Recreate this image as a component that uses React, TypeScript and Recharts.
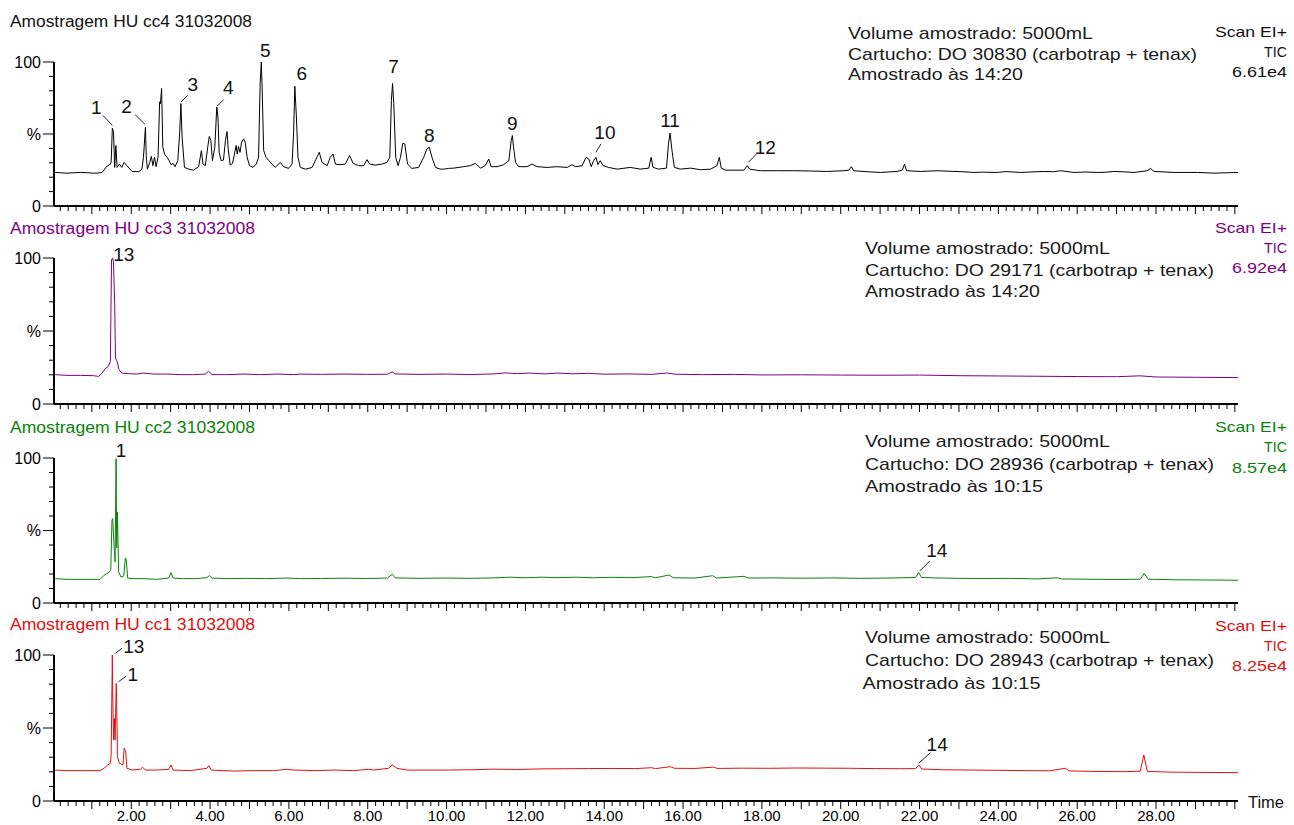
import { LineChart, Line, XAxis, YAxis, ReferenceDot } from "recharts";

// retention time (min) vs relative abundance (%)
const CC4: [number, number][] = [
  [0.07, 23.3], [0.2, 23.1], [0.37, 22.8], [0.5, 23.0], [0.71, 23.3], [0.9, 23.1], [1.04, 22.8], [1.15, 22.9],
  [1.26, 23.3], [1.37, 27.3], [1.47, 29.1], [1.49, 30.3], [1.52, 54.1], [1.55, 51.3], [1.58, 26.8], [1.61, 42],
  [1.64, 26.8], [1.7, 29.1], [1.76, 26.8], [1.82, 30.3], [1.89, 28], [2.02, 24], [2.19, 23.8], [2.27, 25.6],
  [2.31, 33.8], [2.36, 54.8], [2.38, 35], [2.41, 25.6], [2.47, 30.3], [2.51, 34.5], [2.55, 28], [2.59, 33.8],
  [2.63, 27.3], [2.68, 33.8], [2.72, 72.3], [2.74, 71], [2.77, 81.6], [2.8, 40.8], [2.85, 35.7], [2.91, 33.8],
  [2.96, 31.5], [3.01, 28.7], [3.06, 29.6], [3.11, 27.3], [3.18, 31.5], [3.23, 51.3], [3.26, 71.1], [3.29, 47.8],
  [3.35, 26.8], [3.46, 25.6], [3.58, 24.9], [3.71, 27.3], [3.78, 38.5], [3.82, 29.1], [3.88, 28], [3.94, 40.8],
  [3.98, 48.3], [4.02, 45.5], [4.06, 31.5], [4.12, 40.8], [4.17, 68.8], [4.2, 61.8], [4.23, 37.3], [4.28, 31.5],
  [4.34, 31.9], [4.39, 45.5], [4.43, 51.7], [4.46, 39.6], [4.51, 28.4], [4.57, 29.6], [4.62, 36.1], [4.66, 42],
  [4.69, 36.1], [4.72, 41.3], [4.76, 37.3], [4.8, 44.3], [4.85, 46.6], [4.89, 44.3], [4.94, 33.8], [5.0, 28],
  [5.09, 26.8], [5.17, 29.1], [5.23, 33.8], [5.27, 85], [5.3, 100], [5.32, 82.8], [5.36, 38.5], [5.42, 33.8],
  [5.49, 31.5], [5.57, 29.1], [5.65, 26.8], [5.78, 30.3], [5.87, 27.3], [5.99, 26.1], [6.08, 29.1], [6.12, 51.3],
  [6.15, 83.2], [6.19, 61.8], [6.23, 33.8], [6.29, 26.8], [6.42, 25.6], [6.59, 26.8], [6.71, 33.8], [6.77, 37.3],
  [6.84, 30.3], [6.97, 28], [7.05, 33.8], [7.12, 36.1], [7.18, 29.1], [7.3, 28.7], [7.43, 29.1], [7.54, 35],
  [7.63, 29.6], [7.77, 28], [7.9, 28], [7.98, 32.2], [8.05, 29.1], [8.19, 28.4], [8.36, 29.1], [8.49, 30.3],
  [8.56, 33.8], [8.6, 73.4], [8.63, 85.1], [8.66, 71.1], [8.71, 33.8], [8.77, 28], [8.83, 33.8], [8.89, 43.6],
  [8.94, 43.1], [9.01, 29.1], [9.12, 26.1], [9.29, 26.8], [9.42, 33.8], [9.5, 39.6], [9.56, 40.8], [9.63, 33.8],
  [9.72, 26.8], [9.84, 25.6], [9.93, 25.6], [10.05, 26.1], [10.18, 26.3], [10.43, 27.3], [10.6, 28], [10.73, 29.6],
  [10.86, 26.3], [10.98, 28], [11.07, 32.6], [11.13, 27.3], [11.28, 27.3], [11.45, 28.7], [11.58, 31.5], [11.64, 45.5],
  [11.67, 49], [11.7, 40.8], [11.75, 30.3], [11.83, 27.3], [12.04, 27.3], [12.17, 29.1], [12.3, 27.3], [12.55, 26.8],
  [12.8, 27.3], [13.06, 26.8], [13.18, 28.7], [13.27, 27.3], [13.44, 28], [13.54, 33.8], [13.61, 32.6], [13.67, 27.3],
  [13.73, 31.5], [13.79, 33.8], [13.84, 28.7], [13.9, 31.5], [13.97, 28], [14.11, 26.8], [14.33, 25.6], [14.66, 26.8],
  [14.92, 25.6], [15.13, 26.3], [15.19, 33.8], [15.24, 26.8], [15.38, 25.6], [15.58, 26.3], [15.63, 43.1], [15.67, 50.6],
  [15.72, 38.5], [15.78, 26.8], [15.93, 25.6], [16.19, 26.3], [16.44, 25.2], [16.7, 25.6], [16.86, 28], [16.92, 33.8],
  [16.97, 26.3], [17.08, 24.9], [17.29, 24.9], [17.54, 24.9], [17.63, 28], [17.69, 25.6], [17.96, 24.5], [18.39, 24.5],
  [18.81, 24.5], [19.23, 24.3], [19.66, 24], [20.08, 24.5], [20.21, 24.9], [20.27, 27.3], [20.33, 24.5], [20.67, 23.8],
  [21.01, 23.3], [21.43, 24], [21.56, 24.9], [21.62, 29.1], [21.67, 24.5], [22.03, 24], [22.45, 24.5], [22.87, 24],
  [23.1, 23.8], [23.38, 23.3], [23.6, 23.5], [23.97, 23.3], [24.2, 23.9], [24.56, 23.3], [24.8, 23.6], [25.16, 24],
  [25.4, 23.8], [25.58, 24.5], [25.92, 23.3], [26.2, 23.6], [26.51, 23.3], [26.7, 23.4], [26.93, 24], [27.2, 23.7],
  [27.44, 23.3], [27.78, 24.5], [27.86, 26.1], [27.95, 24], [28.46, 23.3], [29.05, 23.3], [29.47, 22.8], [30.08, 23.3]
];

const CC3: [number, number][] = [
  [0.07, 20.1], [0.37, 19.6], [0.71, 19.6], [1.04, 19.4], [1.17, 18.9], [1.26, 21.2], [1.34, 24.2], [1.42, 25.8],
  [1.47, 29.2], [1.5, 98.9], [1.53, 100], [1.55, 96.6], [1.58, 68], [1.6, 31.5], [1.64, 29.2], [1.69, 23.5],
  [1.76, 21.2], [1.93, 20.8], [2.14, 20.5], [2.31, 21.2], [2.57, 20.5], [2.91, 20.5], [3.24, 20.1], [3.58, 20.1],
  [3.88, 20.5], [3.96, 22.4], [4.05, 20.1], [4.43, 20.1], [4.85, 20.5], [5.27, 20.1], [5.7, 20.5], [6.12, 20.1],
  [6.29, 20.5], [6.8, 20.3], [7.4, 20.5], [8.0, 20.3], [8.5, 20.4], [8.62, 22], [8.7, 20.6], [9.3, 20.3],
  [10.0, 20.5], [10.6, 20.2], [11.2, 20.6], [11.5, 21.3], [11.8, 20.8], [12.1, 21.2], [12.5, 20.6], [12.8, 21.2],
  [13.2, 20.7], [13.6, 21], [14.0, 20.4], [14.6, 20.6], [15.2, 20.3], [15.6, 21.2], [15.8, 20.4], [16.5, 20.1],
  [17.3, 20.3], [18.0, 19.9], [19.0, 20], [20.0, 19.8], [21.0, 19.7], [22.0, 19.8], [23.0, 19.4], [24.0, 19.2],
  [25.0, 19], [26.0, 18.8], [27.0, 18.7], [27.6, 19.3], [28.0, 18.5], [29.0, 18.3], [30.08, 18.1]
];

const CC2: [number, number][] = [
  [0.07, 16.8], [0.37, 16.3], [0.79, 16.3], [1.21, 16.3], [1.31, 19.1], [1.42, 20.9], [1.48, 22.5], [1.51, 57],
  [1.53, 58.2], [1.56, 40.9], [1.59, 28.3], [1.615, 99.5], [1.63, 38], [1.65, 62.8], [1.68, 21.4], [1.74, 17.9],
  [1.81, 18.6], [1.85, 31], [1.87, 30.6], [1.91, 17.2], [2.02, 16.8], [2.31, 16.8], [2.65, 16.3], [2.95, 17.2],
  [3.01, 20.9], [3.06, 17.2], [3.33, 16.8], [3.67, 16.8], [3.92, 17.5], [3.98, 18.9], [4.05, 17.2], [4.43, 16.8],
  [4.94, 17], [5.44, 16.8], [5.95, 17.2], [6.29, 16.8], [6.8, 16.9], [7.4, 17.1], [8.0, 16.9], [8.5, 17.2],
  [8.62, 19.8], [8.7, 17.3], [9.3, 17], [10.0, 17.2], [10.6, 17.0], [11.2, 17.3], [11.6, 17.8], [12.0, 17.4],
  [12.4, 17.8], [12.8, 17.5], [13.3, 17.8], [13.7, 17.4], [14.2, 17.7], [14.7, 17.5], [15.2, 18.2], [15.3, 17.4],
  [15.65, 19.3], [15.75, 17.4], [16.3, 17.2], [16.75, 18.8], [16.85, 17.2], [17.55, 18.4], [17.65, 17.2], [18.3, 17.3],
  [19.0, 17.1], [19.8, 17.3], [20.5, 17.0], [21.2, 17.2], [21.9, 17.6], [21.98, 21], [22.05, 17.6], [22.4, 17.3],
  [23.0, 17], [23.6, 16.9], [24.3, 17], [25.0, 16.6], [25.5, 17.4], [25.6, 16.6], [26.3, 16.4], [27.0, 16.2],
  [27.6, 16.4], [27.7, 20.4], [27.8, 16.4], [28.5, 16.0], [29.2, 15.9], [30.08, 15.7]
];

const CC1: [number, number][] = [
  [0.07, 21.2], [0.37, 20.8], [0.79, 20.8], [1.21, 20.8], [1.31, 22.4], [1.4, 24.7], [1.47, 25.8], [1.49, 31.5],
  [1.52, 100], [1.53, 74.9], [1.55, 41.8], [1.57, 56.6], [1.59, 41.8], [1.62, 80.6], [1.64, 50.9], [1.65, 30.4],
  [1.7, 25.8], [1.79, 24.7], [1.82, 36.1], [1.86, 33.8], [1.89, 22.4], [2.02, 21.2], [2.23, 21.7], [2.29, 23.1],
  [2.36, 21.2], [2.65, 21.2], [2.95, 21.7], [3.01, 24.7], [3.06, 21.2], [3.5, 20.8], [3.92, 22.4], [3.97, 24.2],
  [4.03, 21.2], [4.6, 20.5], [5.1, 20.8], [5.61, 20.8], [5.95, 21.7], [6.12, 21.2], [6.71, 20.8], [7.14, 21.2],
  [7.64, 20.8], [8.02, 21.7], [8.15, 21.2], [8.53, 22.4], [8.62, 24.7], [8.74, 22.4], [9.0, 21.2], [9.5, 21.2],
  [10.05, 21.2], [10.6, 21.4], [11.2, 21.8], [11.8, 21.6], [12.4, 22], [13.0, 22.1], [13.6, 22.2], [14.2, 22.3],
  [14.8, 22.2], [15.2, 22.8], [15.3, 22.2], [15.68, 23.5], [15.78, 22.4], [16.3, 22.3], [16.77, 23.2], [16.87, 22.3],
  [17.5, 22.5], [18.2, 22.4], [18.9, 22.6], [19.6, 22.5], [20.25, 22.4], [20.9, 22.2], [21.5, 22.1], [21.9, 22.2],
  [21.98, 24.7], [22.06, 21.9], [22.6, 21.4], [23.3, 21.2], [24.0, 21], [24.7, 20.8], [25.3, 20.7], [25.7, 22.4],
  [25.8, 20.6], [26.5, 20.2], [27.2, 20.1], [27.6, 20.4], [27.69, 31.5], [27.78, 20.3], [28.3, 19.8], [29.0, 19.6],
  [29.6, 19.5], [30.08, 19.4]
];

// numbered compounds marked on each trace
const PEAKS_CC4 = [
  { tag: "1", t: 1.52, v: 54.1 }, { tag: "2", t: 2.36, v: 54.8 }, { tag: "3", t: 3.26, v: 71.1 },
  { tag: "4", t: 4.17, v: 68.8 }, { tag: "5", t: 5.3, v: 100 }, { tag: "6", t: 6.15, v: 83.2 },
  { tag: "7", t: 8.63, v: 85.1 }, { tag: "8", t: 9.56, v: 40.8 }, { tag: "9", t: 11.67, v: 49 },
  { tag: "10", t: 13.79, v: 33.8 }, { tag: "11", t: 15.67, v: 50.6 }, { tag: "12", t: 17.63, v: 28 }
];
const PEAKS_CC3 = [{ tag: "13", t: 1.53, v: 100 }];
const PEAKS_CC2 = [{ tag: "1", t: 1.615, v: 99.5 }, { tag: "14", t: 21.98, v: 21 }];
const PEAKS_CC1 = [{ tag: "13", t: 1.52, v: 100 }, { tag: "1", t: 1.62, v: 80.6 }, { tag: "14", t: 21.98, v: 24.7 }];

const TITLES = ["Amostragem HU cc4 31032008", "Amostragem HU cc3 31032008", "Amostragem HU cc2 31032008", "Amostragem HU cc1 31032008"];
const CARTUCHOS = ["Cartucho: DO 30830 (carbotrap + tenax)", "Cartucho: DO 29171 (carbotrap + tenax)", "Cartucho: DO 28936 (carbotrap + tenax)", "Cartucho: DO 28943 (carbotrap + tenax)"];
const HORAS = ["Amostrado às 14:20", "Amostrado às 14:20", "Amostrado às 10:15", "Amostrado às 10:15"];
const TIC_MAX = ["6.61e4", "6.92e4", "8.57e4", "8.25e4"];
const VOLUME = "Volume amostrado: 5000mL";

const TIME_DOMAIN: [number, number] = [0.04, 30.08];
const MINUTE_TICKS = [1, 2, 3, 4, 5, 6, 7, 8, 9, 10, 11, 12, 13, 14, 15, 16, 17, 18, 19, 20, 21, 22, 23, 24, 25, 26, 27, 28, 29, 30];
const TIME_LABELS = [2, 4, 6, 8, 10, 12, 14, 16, 18, 20, 22, 24, 26, 28];
const TIME_TICKS = Array.from({ length: 150 }, (_, i) => Number(((i + 1) * 0.2).toFixed(1)));
const PERCENT_TICKS = [0, 10, 20, 30, 40, 50, 60, 70, 80, 90, 100];
const PERCENT_LABELS: Record<number, string> = { 0: "0", 50: "%", 100: "100" };

const COLORS = ["#000000", "#800080", "#0a820a", "#e01010"];
const FONT = '"Liberation Sans", Arial, sans-serif';
const HEADROOM = 30;

type Place = { dx: number; dy: number; lead?: number[] };

const PLACE_CC4: Record<string, Place> = {
  "1": { dx: -16, dy: -14, lead: [-9.4, -12.7, 0, -2.7] },
  "2": { dx: -19, dy: -14, lead: [-10.3, -12.4, -0.3, -2.7] },
  "3": { dx: 12, dy: -12.5, lead: [0, -1.6, 6.7, -8.3] },
  "4": { dx: 11.5, dy: -12.5, lead: [0.3, -0.7, 7, -7.4] },
  "5": { dx: 4, dy: -5.5 },
  "6": { dx: 7, dy: -6 },
  "7": { dx: 1, dy: -10 },
  "8": { dx: 0, dy: -5 },
  "9": { dx: 0, dy: -5 },
  "10": { dx: 9, dy: -18, lead: [0, -5, 5, -13.4] },
  "11": { dx: 0, dy: -6 },
  "12": { dx: 18, dy: -12, lead: [1, -3.3, 9.2, -11.7] }
};
const PLACE_CC3: Record<string, Place> = { "13": { dx: 11, dy: 3 } };
const PLACE_CC2: Record<string, Place> = {
  "1": { dx: 5, dy: -2 },
  "14": { dx: 18, dy: -15.5, lead: [1, -1.5, 11, -11.5] }
};
const PLACE_CC1: Record<string, Place> = {
  "13": { dx: 21.5, dy: -2.3, lead: [3, -1.7, 9.7, -6.7] },
  "1": { dx: 16.5, dy: -2.6, lead: [2.3, -1.6, 10, -7.3] },
  "14": { dx: 18.4, dy: -14.3, lead: [0, -1.7, 11.7, -12.3] }
};

function TimeTick({ x, y, payload, labelled }: any) {
  const t = payload.value;
  const major = MINUTE_TICKS.includes(t);
  return (
    <g>
      <line x1={x} x2={x} y1={y + 1} y2={y + (major ? 8 : 5)} stroke="#000" strokeWidth={1} />
      {labelled && TIME_LABELS.includes(t) && (
        <text x={x} y={y + 20} textAnchor="middle" fontSize={15} fill="#000" fontFamily={FONT}>
          {t.toFixed(2)}
        </text>
      )}
    </g>
  );
}

function PercentTick({ x, y, payload }: any) {
  const label = PERCENT_LABELS[payload.value];
  return (
    <g>
      <line x1={x - (label ? 11 : 5)} x2={x} y1={y} y2={y} stroke="#000" strokeWidth={1} />
      {label && (
        <text x={x - 13} y={y + 5.5} textAnchor="end" fontSize={16} fill="#000" fontFamily={FONT}>
          {label}
        </text>
      )}
    </g>
  );
}

function PeakTag({ cx, cy, tag, place }: any) {
  if (cx == null || cy == null) return null;
  const { dx, dy, lead } = place as Place;
  return (
    <g>
      {lead && (
        <line x1={cx + lead[0]} y1={cy + lead[1]} x2={cx + lead[2]} y2={cy + lead[3]} stroke="#222" strokeWidth={1} />
      )}
      <text x={cx + dx} y={cy + dy} textAnchor="middle" fontSize={19} fill="#111" fontFamily={FONT}>
        {tag}
      </text>
    </g>
  );
}

interface PanelProps {
  plotTop: number;
  plotHeight: number;
  axisHeight: number;
  trace: [number, number][];
  color: string;
  peaks: { tag: string; t: number; v: number }[];
  places: Record<string, Place>;
  labelled?: boolean;
}

function Panel({ plotTop, plotHeight, axisHeight, trace, color, peaks, places, labelled }: PanelProps) {
  const data = trace.map(([t, v]) => ({ t, v }));
  return (
    <div style={{ position: "absolute", left: 0, top: plotTop - HEADROOM }}>
      <LineChart
        width={1294}
        height={HEADROOM + plotHeight + axisHeight}
        data={data}
        margin={{ top: HEADROOM, right: 56, bottom: 0, left: 0 }}
      >
        <XAxis
          dataKey="t"
          type="number"
          domain={TIME_DOMAIN}
          allowDataOverflow
          ticks={TIME_TICKS}
          interval={0}
          height={axisHeight}
          tickSize={0}
          tickMargin={0}
          tickLine={false}
          axisLine={{ stroke: "#000", strokeWidth: 2 }}
          tick={<TimeTick labelled={labelled} />}
        />
        <YAxis
          type="number"
          domain={[0, 100]}
          ticks={PERCENT_TICKS}
          interval={0}
          width={54}
          tickSize={0}
          tickMargin={0}
          tickLine={false}
          axisLine={{ stroke: "#000", strokeWidth: 2 }}
          tick={<PercentTick />}
        />
        <Line type="linear" dataKey="v" stroke={color} strokeWidth={1} dot={false} isAnimationActive={false} />
        {peaks.map((p) => (
          <ReferenceDot
            key={`${p.tag}-${p.t}`}
            x={p.t}
            y={p.v}
            r={0}
            ifOverflow="visible"
            shape={(props: any) => <PeakTag cx={props.cx} cy={props.cy} tag={p.tag} place={places[p.tag]} />}
          />
        ))}
      </LineChart>
    </div>
  );
}

// fixed text blocks, widths taken from the scan so the stretched lettering lines up
function Txt({ x, y, w, size = 16, fill = "#1a1a1a", right, children }: any) {
  return (
    <text
      x={right ? x - w : x}
      y={y}
      fontSize={size}
      fill={fill}
      textLength={w}
      lengthAdjust="spacingAndGlyphs"
      fontFamily={FONT}
    >
      {children}
    </text>
  );
}

const TITLE_Y = [27, 234, 433, 630];
const NOTE_X = [848, 865, 865, 865];
const NOTE_Y = [
  [38.5, 59.5, 80],
  [254, 275.5, 297],
  [447, 470, 492],
  [643, 666, 689]
];
const SCAN_Y = [
  [36.5, 56.5, 77],
  [233, 253, 273],
  [432, 452, 473],
  [630.5, 650.5, 670.5]
];

export default function App() {
  return (
    <div
      style={{
        position: "fixed",
        left: 0,
        top: 0,
        width: 1294,
        height: 825,
        background: "#fff",
        overflow: "hidden",
        fontFamily: FONT
      }}
    >
      <Panel plotTop={62} plotHeight={144} axisHeight={14} trace={CC4} color={COLORS[0]} peaks={PEAKS_CC4} places={PLACE_CC4} />
      <Panel plotTop={258} plotHeight={146} axisHeight={14} trace={CC3} color={COLORS[1]} peaks={PEAKS_CC3} places={PLACE_CC3} />
      <Panel plotTop={458} plotHeight={145} axisHeight={14} trace={CC2} color={COLORS[2]} peaks={PEAKS_CC2} places={PLACE_CC2} />
      <Panel plotTop={655} plotHeight={146} axisHeight={24} trace={CC1} color={COLORS[3]} peaks={PEAKS_CC1} places={PLACE_CC1} labelled />
      <svg width={1294} height={825} style={{ position: "absolute", left: 0, top: 0, pointerEvents: "none" }}>
        {TITLES.map((title, i) => (
          <g key={title}>
            <Txt x={10} y={TITLE_Y[i]} w={i === 0 ? 242 : 245} fill={i === 0 ? "#111" : COLORS[i]}>
              {title}
            </Txt>
            <Txt x={NOTE_X[i]} y={NOTE_Y[i][0]} w={245} size={17}>{VOLUME}</Txt>
            <Txt x={NOTE_X[i]} y={NOTE_Y[i][1]} w={349} size={17}>{CARTUCHOS[i]}</Txt>
            <Txt x={i === 3 ? 862.5 : NOTE_X[i]} y={NOTE_Y[i][2]} w={i < 2 ? 175 : 178} size={17}>{HORAS[i]}</Txt>
            <Txt x={1287} y={SCAN_Y[i][0]} w={72} size={15} fill={i === 0 ? "#111" : COLORS[i]} right>Scan EI+</Txt>
            <Txt x={1287} y={SCAN_Y[i][1]} w={23} size={15} fill={i === 0 ? "#111" : COLORS[i]} right>TIC</Txt>
            <Txt x={1287} y={SCAN_Y[i][2]} w={55} size={15} fill={i === 0 ? "#111" : COLORS[i]} right>{TIC_MAX[i]}</Txt>
          </g>
        ))}
        <Txt x={1248} y={807.5} w={36} size={16} fill="#111">Time</Txt>
      </svg>
    </div>
  );
}
